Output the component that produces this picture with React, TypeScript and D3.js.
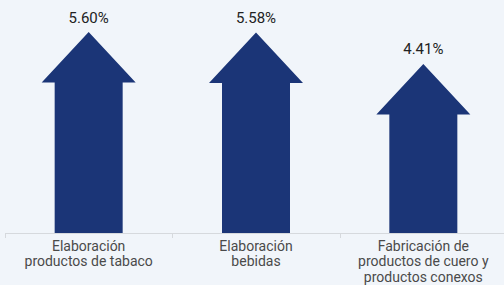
import React from "react";
import * as d3 from "d3";

const categories: string[][] = [
  ["Elaboración", "productos de tabaco"],
  ["Elaboración", "bebidas"],
  ["Fabricación de", "productos de cuero y", "productos conexos"],
];
const values: number[] = [5.6, 5.58, 4.41];
const valueLabels: string[] = ["5.60%", "5.58%", "4.41%"];

const W = 504;
const H = 285;
const BASE = 233;
const ARROW = "#1b3577";
const BG = "#f1f5fa";

export default function App() {
  const x = d3
    .scaleBand<number>()
    .domain(d3.range(values.length))
    .range([5, 507])
    .paddingInner(0)
    .paddingOuter(0);
  const y = d3.scaleLinear().domain([0, 5.6]).range([BASE, 82.5]);
  const stemW = 68;
  const headHalf = 47;
  const headH = 50.5;
  const font = "Roboto, 'Noto Sans', sans-serif";

  return (
    <svg
      width={W}
      height={H}
      style={{ position: "absolute", left: 0, top: 0, background: BG, display: "block" }}
    >
      <rect x={0} y={0} width={W} height={H} fill={BG} />
      {values.map((v, i) => {
        const cx = (x(i) as number) + x.bandwidth() / 2;
        const top = y(v);
        const path = d3.path();
        path.moveTo(cx - stemW / 2, BASE);
        path.lineTo(cx - stemW / 2, top);
        path.lineTo(cx - headHalf, top);
        path.lineTo(cx, top - headH);
        path.lineTo(cx + headHalf, top);
        path.lineTo(cx + stemW / 2, top);
        path.lineTo(cx + stemW / 2, BASE);
        path.closePath();
        return (
          <g key={i}>
            <path d={path.toString()} fill={ARROW} />
            <text
              x={cx}
              y={top - headH - 9.5}
              textAnchor="middle"
              fontFamily={font}
              fontSize={15}
              fill="#222"
            >
              {valueLabels[i]}
            </text>
          </g>
        );
      })}
      <line x1={5} x2={W} y1={BASE + 0.5} y2={BASE + 0.5} stroke="#d6d9dd" strokeWidth={1} />
      {d3.range(values.length + 1).map((i) => {
        const bx = Math.round(i < values.length ? (x(i) as number) : 507) + 0.5;
        return (
          <line key={i} x1={bx} x2={bx} y1={BASE} y2={BASE + 5} stroke="#d6d9dd" strokeWidth={1} />
        );
      })}
      {categories.map((lines, i) => {
        const cx = (x(i) as number) + x.bandwidth() / 2;
        return (
          <text
            key={i}
            x={cx}
            y={250.5}
            textAnchor="middle"
            fontFamily={font}
            fontSize={14}
            fill="#4a4a4a"
          >
            {lines.map((l, j) => (
              <tspan key={j} x={cx} dy={j === 0 ? 0 : 15.6}>
                {l}
              </tspan>
            ))}
          </text>
        );
      })}
    </svg>
  );
}
